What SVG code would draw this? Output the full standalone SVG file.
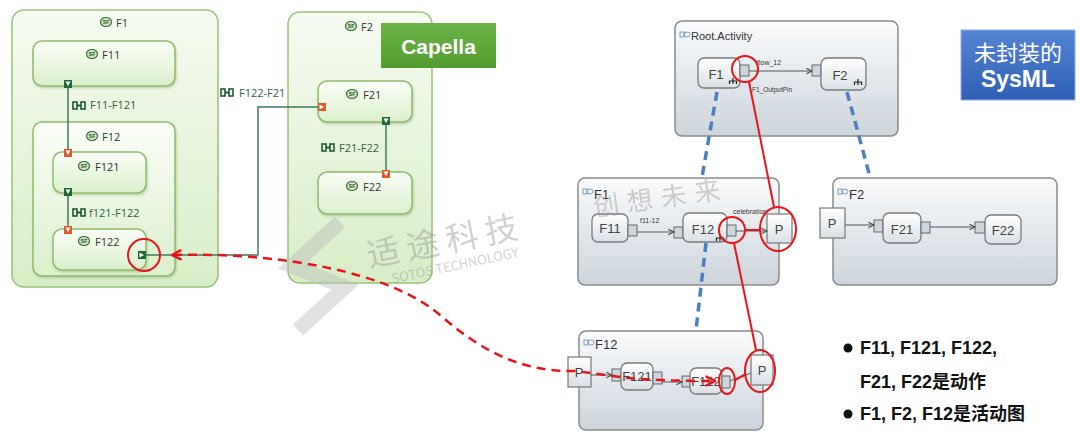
<svg xmlns="http://www.w3.org/2000/svg" width="1080" height="442" viewBox="0 0 1080 442">
<style>
.cbox{fill:url(#gOuter);stroke:#98c276;stroke-width:1.5}
.cin{fill:url(#gInner);stroke:#8dbd6a;stroke-width:1.5;filter:url(#sh)}
.ct{font-family:"Open Sans","Liberation Sans",sans-serif;font-size:11px;fill:#333}
.cl{font-family:"Open Sans","Liberation Sans",sans-serif;font-size:11px;fill:#2f5f45}
.cline{fill:none;stroke:#3f7a5c;stroke-width:1.5}
.sbox{fill:url(#gSys);stroke:#8a8a8a;stroke-width:1.5}
.act{fill:url(#gAct);stroke:#7a7a7a;stroke-width:1.3}
.pin{fill:#ccd6dc;stroke:#666;stroke-width:1}
.pp{fill:url(#gAct);stroke:#777;stroke-width:1.2}
.st{font-family:"Liberation Sans","DejaVu Sans",sans-serif;font-size:13px;fill:#444;text-anchor:middle}
.sl{font-family:"Liberation Sans","DejaVu Sans",sans-serif;fill:#333}
.sline{fill:none;stroke:#555;stroke-width:1}
.red{fill:none;stroke:#e8141a;stroke-width:2}
.blue{fill:none;stroke:#4b7fc2;stroke-width:3.5;stroke-dasharray:9 6}
.fork{fill:none;stroke:#222;stroke-width:1.2}
.bul{font-family:"Liberation Sans","Noto Sans CJK SC",sans-serif;font-size:18px;font-weight:bold;fill:#111}
.wm{font-family:"Noto Sans CJK SC","Liberation Sans",sans-serif;fill:#9a9a9a;opacity:0.45}
</style>
<defs>
<linearGradient id="gOuter" x1="0" y1="0" x2="0" y2="1"><stop offset="0" stop-color="#f6fbf1"/><stop offset="1" stop-color="#d8eec6"/></linearGradient>
<linearGradient id="gInner" x1="0" y1="0" x2="0" y2="1"><stop offset="0" stop-color="#fbfef8"/><stop offset="1" stop-color="#dbf0cb"/></linearGradient>
<linearGradient id="gSys" x1="0" y1="0" x2="0" y2="1"><stop offset="0" stop-color="#fafbfc"/><stop offset="1" stop-color="#ccd5dc"/></linearGradient>
<linearGradient id="gAct" x1="0" y1="0" x2="0" y2="1"><stop offset="0" stop-color="#ffffff"/><stop offset="1" stop-color="#d9e0e5"/></linearGradient>
<linearGradient id="gCap" x1="0" y1="0" x2="0" y2="1"><stop offset="0" stop-color="#6cb447"/><stop offset="1" stop-color="#519c30"/></linearGradient>
<linearGradient id="gBlue" x1="0" y1="0" x2="0" y2="1"><stop offset="0" stop-color="#5485d3"/><stop offset="1" stop-color="#2f5fb5"/></linearGradient>
<filter id="sh" x="-10%" y="-10%" width="125%" height="130%"><feDropShadow dx="1" dy="1.5" stdDeviation="1" flood-color="#6f8f5a" flood-opacity="0.35"/></filter>
<marker id="oa" viewBox="0 0 10 10" refX="9" refY="5" markerWidth="7" markerHeight="7" orient="auto" markerUnits="userSpaceOnUse"><path d="M1 1 L9 5 L1 9" fill="none" stroke="#444" stroke-width="1.5"/></marker>
<marker id="ra" viewBox="0 0 10 10" refX="8" refY="5" markerWidth="12" markerHeight="12" orient="auto-start-reverse" markerUnits="userSpaceOnUse"><path d="M1 1 L9 5 L1 9" fill="none" stroke="#e8141a" stroke-width="2"/></marker>
<g id="sf"><ellipse cx="0" cy="0" rx="5.5" ry="4.5" fill="#cfe5bf" stroke="#3b6d3b" stroke-width="1.2"/><text x="0" y="2" font-family="Liberation Sans,sans-serif" font-size="5" font-weight="bold" fill="#2b552b" text-anchor="middle">SF</text></g>
<g id="pgd"><rect x="0" y="0" width="8" height="8" fill="#1f6a3a"/><path d="M1.5 1.5 H6.5 L4 6 Z" fill="#fff"/></g>
<g id="prd"><rect x="0" y="0" width="8" height="8" fill="#e2552a"/><path d="M1.5 1.5 H6.5 L4 6 Z" fill="#fff"/></g>
<g id="pgr"><rect x="0" y="0" width="8" height="8" fill="#1f6a3a"/><path d="M1.5 1.5 V6.5 L6 4 Z" fill="#fff"/></g>
<g id="prr"><rect x="0" y="0" width="8" height="8" fill="#e2552a"/><path d="M1.5 1.5 V6.5 L6 4 Z" fill="#fff"/></g>
<g id="ci"><rect x="0" y="0" width="4" height="7" fill="none" stroke="#1f5a35" stroke-width="1.6"/><rect x="8" y="0" width="4" height="7" fill="none" stroke="#1f5a35" stroke-width="1.6"/><path d="M4 3.5 H8" stroke="#1f5a35" stroke-width="2"/></g>
<g id="ai"><rect x="0" y="0" width="4" height="5" fill="none" stroke="#5b86c4" stroke-width="0.8"/><ellipse cx="7" cy="2.5" rx="3" ry="2.5" fill="none" stroke="#5b86c4" stroke-width="0.8"/></g>
<path id="fk" d="M0 -3 V3 M-3.5 3 V0 H3.5 V3" class="fork"/>
</defs>

<rect x="0" y="0" width="1080" height="442" fill="#ffffff"/>

<!-- Capella side -->
<g id="cap-F1">
<rect class="cbox" x="12" y="10" width="206" height="277" rx="12"/>
<use href="#sf" x="106" y="22"/><text class="ct" x="116" y="27">F1</text>
</g>
<g id="cap-F11">
<rect class="cin" x="33" y="41" width="142" height="45" rx="9"/>
<use href="#sf" x="92" y="54"/><text class="ct" x="102" y="59">F11</text>
<use href="#pgd" x="64" y="80"/>
</g>
<g id="cap-F12">
<rect class="cin" x="33" y="122" width="142" height="154" rx="9"/>
<use href="#sf" x="92" y="136"/><text class="ct" x="102" y="141">F12</text>
</g>
<g id="cap-F121">
<rect class="cin" x="53" y="152" width="93" height="41" rx="9"/>
<use href="#sf" x="84" y="166"/><text class="ct" x="95" y="171">F121</text>
<use href="#prd" x="64" y="149"/>
<use href="#pgd" x="64" y="188"/>
</g>
<g id="cap-F122">
<rect class="cin" x="53" y="229" width="93" height="41" rx="9"/>
<use href="#sf" x="84" y="241"/><text class="ct" x="95" y="246">F122</text>
<use href="#prd" x="64" y="226"/>
<use href="#pgr" x="138" y="251"/>
</g>
<g id="cap-F2">
<rect class="cbox" x="288" y="12" width="144" height="271" rx="12"/>
<use href="#sf" x="351" y="26"/><text class="ct" x="361" y="31">F2</text>
</g>
<g id="cap-F21">
<rect class="cin" x="318" y="81" width="94" height="41" rx="9"/>
<use href="#sf" x="352" y="94"/><text class="ct" x="363" y="99">F21</text>
<use href="#prr" x="318" y="103"/>
<use href="#pgd" x="382" y="117"/>
</g>
<g id="cap-F22">
<rect class="cin" x="318" y="172" width="94" height="42" rx="9"/>
<use href="#sf" x="352" y="186"/><text class="ct" x="363" y="191">F22</text>
<use href="#prd" x="382" y="170"/>
</g>
<g id="cap-connectors">
<path class="cline" d="M68 88 V149"/>
<path class="cline" d="M68 196 V226"/>
<path class="cline" d="M146 255 H258 V107 H318"/>
<path class="cline" d="M386 125 V170"/>
<use href="#ci" x="73" y="102"/><text class="cl" x="90" y="109">F11-F121</text>
<use href="#ci" x="73" y="209"/><text class="cl" x="89" y="217">f121-F122</text>
<use href="#ci" x="221" y="89"/><text class="cl" x="239" y="97">F122-F21</text>
<use href="#ci" x="322" y="144"/><text class="cl" x="339" y="152">F21-F22</text>
</g>
<g id="capella-badge">
<rect x="381" y="23" width="115" height="45" fill="url(#gCap)"/>
<text x="438.5" y="54" font-family="Liberation Sans,Arial,sans-serif" font-size="21" font-weight="bold" fill="#fff" text-anchor="middle">Capella</text>
</g>

<!-- SysML side -->
<g id="sys-root">
<rect class="sbox" x="675" y="21" width="223" height="115" rx="7"/>
<use href="#ai" x="680" y="32"/><text class="sl" x="691" y="40" font-size="11">Root.Activity</text>
</g>
<g id="sys-root-F1">
<rect class="act" x="698" y="58" width="42" height="30" rx="6"/>
<text class="st" x="716" y="79">F1</text>
<use href="#fk" x="733" y="81"/>
<rect class="pin" x="740" y="65" width="9" height="11"/>
</g>
<g id="sys-root-F2">
<rect class="pin" x="812" y="65" width="9" height="11"/>
<rect class="act" x="821" y="58" width="45" height="32" rx="6"/>
<text class="st" x="840" y="80">F2</text>
<use href="#fk" x="858" y="82"/>
</g>
<g id="sys-F1">
<rect class="sbox" x="578" y="178" width="201" height="107" rx="7"/>
<use href="#ai" x="583" y="189"/><text class="sl" x="594" y="199" font-size="13">F1</text>
</g>
<g id="sys-F1-F11">
<rect class="act" x="592" y="214" width="36" height="28" rx="6"/>
<text class="st" x="610" y="233">F11</text>
<rect class="pin" x="628" y="225" width="9" height="11"/>
</g>
<g id="sys-F1-F12">
<rect class="pin" x="674" y="227" width="9" height="11"/>
<rect class="act" x="683" y="213" width="44" height="29" rx="6"/>
<text class="st" x="703" y="234">F12</text>
<use href="#fk" x="720" y="238"/>
<rect class="pin" x="727" y="225" width="9" height="11"/>
</g>
<g id="sys-F1-P">
<rect class="pp" x="767" y="214" width="25" height="29"/>
<text class="st" x="779" y="234">P</text>
</g>
<g id="sys-F2">
<rect class="sbox" x="833" y="178" width="224" height="107" rx="7"/>
<use href="#ai" x="838" y="189"/><text class="sl" x="849" y="199" font-size="13">F2</text>
<rect class="pp" x="820" y="208" width="25" height="30"/>
<text class="st" x="832" y="228">P</text>
</g>
<g id="sys-F2-F21">
<rect class="pin" x="874" y="220" width="9" height="12"/>
<rect class="act" x="883" y="213" width="38" height="30" rx="6"/>
<text class="st" x="902" y="234">F21</text>
<rect class="pin" x="921" y="222" width="9" height="11"/>
</g>
<g id="sys-F2-F22">
<rect class="pin" x="975" y="222" width="10" height="11"/>
<rect class="act" x="985" y="215" width="36" height="29" rx="6"/>
<text class="st" x="1003" y="235">F22</text>
</g>
<g id="sys-F12">
<rect class="sbox" x="579" y="331" width="184" height="99" rx="7"/>
<use href="#ai" x="584" y="340"/><text class="sl" x="595" y="349" font-size="13">F12</text>
<rect class="pp" x="568" y="357" width="23" height="30"/>
<text class="st" x="579" y="377">P</text>
</g>
<g id="sys-F12-F121">
<rect class="pin" x="612" y="369" width="9" height="12"/>
<rect class="act" x="621" y="363" width="32" height="27" rx="6"/>
<text class="st" x="637" y="381" font-size="12">F121</text>
<rect class="pin" x="653" y="372" width="9" height="12"/>
</g>
<g id="sys-F12-F122">
<rect class="pin" x="682" y="376" width="9" height="11"/>
<rect class="act" x="690" y="368" width="32" height="26" rx="6"/>
<text class="st" x="706" y="386" font-size="12">F122</text>
<rect class="pin" x="722" y="376" width="8" height="12"/>
</g>
<g id="sys-F12-P">
<rect class="pp" x="751" y="355" width="22" height="30"/>
<text class="st" x="762" y="375">P</text>
</g>

<g id="sys-connectors">
<path class="sline" d="M749 71 H812" marker-end="url(#oa)"/>
<text class="sl" x="757" y="65" font-size="7">flow_12</text>
<text class="sl" x="752" y="92" font-size="6.5">F1_OutputPin</text>
<path class="sline" d="M637 232 H674" marker-end="url(#oa)"/>
<text class="sl" x="640" y="223" font-size="7">f11-12</text>
<path class="sline" d="M736 231 H767" marker-end="url(#oa)"/>
<text class="sl" x="733" y="214" font-size="7">celebration</text>
<path class="sline" d="M845 225 H874" marker-end="url(#oa)"/>
<path class="sline" d="M930 227 H975" marker-end="url(#oa)"/>
<path class="sline" d="M591 375 H612" marker-end="url(#oa)"/>
<path class="sline" d="M662 382 H682" marker-end="url(#oa)"/>
<path class="sline" d="M730 381 L751 373"/>
<path class="blue" d="M717 92 L702 177"/>
<path class="blue" d="M706 243 L696 330"/>
<path class="blue" d="M847 92 L870 177"/>
</g>

<!-- watermarks (semi-transparent, over the drawing) -->
<g id="watermark">
<polyline points="340,222 292,266 345,287 298,330" fill="none" stroke="#bdbdbd" stroke-width="15" opacity="0.45"/>
<text class="wm" x="448" y="252" font-size="33" letter-spacing="7" text-anchor="middle" transform="rotate(-11 448 252)">适途科技</text>
<text class="wm" x="456" y="270" font-size="13" text-anchor="middle" font-family="Liberation Sans,sans-serif" transform="rotate(-12 456 270)">SOTOS TECHNOLOGY</text>
<text class="wm" x="662" y="207" font-size="26" letter-spacing="8" text-anchor="middle" transform="rotate(-8 662 207)" opacity="0.35">创想未来</text>
</g>

<g id="highlights">
<circle class="red" cx="144" cy="255" r="16"/>
<path d="M173 255 C 280 252, 390 272, 440 315 C 480 350, 520 372, 575 371 L 620 377 C 645 380, 680 381, 714 381" fill="none" stroke="#e8141a" stroke-width="2.5" stroke-dasharray="9 6" marker-start="url(#ra)" marker-end="url(#ra)"/>
<circle class="red" cx="745" cy="69" r="13"/>
<circle class="red" cx="732" cy="230" r="13"/>
<ellipse class="red" cx="778" cy="229" rx="18" ry="22"/>
<path class="red" d="M745 230 H760"/>
<ellipse class="red" cx="727" cy="381" rx="8" ry="13"/>
<ellipse class="red" cx="760" cy="371" rx="15" ry="21"/>
<path class="red" d="M735 380 L746 374"/>
<path class="red" d="M749 82 L774 207"/>
<path class="red" d="M734 243 L756 350"/>
</g>

<g id="sysml-badge">
<rect x="961" y="30" width="114" height="70" fill="url(#gBlue)" stroke="#8fb0e0" stroke-width="1"/>
<text x="1018" y="61" font-family="Noto Sans CJK SC,sans-serif" font-size="22" fill="#fff" text-anchor="middle">未封装的</text>
<text x="1018" y="87" font-family="Liberation Sans,Arial,sans-serif" font-size="23" font-weight="bold" fill="#fff" text-anchor="middle">SysML</text>
</g>

<g id="notes">
<circle cx="848" cy="348" r="4.5" fill="#111"/>
<text class="bul" x="860" y="354">F11, F121, F122,</text>
<text class="bul" x="860" y="388">F21, F22是动作</text>
<circle cx="848" cy="414" r="4.5" fill="#111"/>
<text class="bul" x="860" y="420">F1, F2, F12是活动图</text>
</g>
</svg>
